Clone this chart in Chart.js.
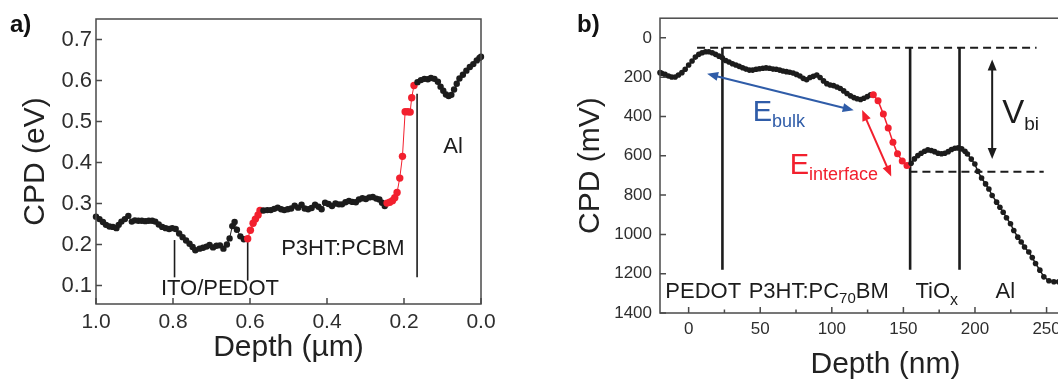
<!DOCTYPE html>
<html>
<head>
<meta charset="utf-8">
<script src="https://cdn.jsdelivr.net/npm/chart.js@4.4.1/dist/chart.umd.min.js"></script>
<style>
html, body { margin: 0; padding: 0; background: #fff; width: 1058px; height: 381px; overflow: hidden; }
#chartA { position: absolute; left: 0; top: 0; }
#chartB { position: absolute; left: 530px; top: 0; }
</style>
</head>
<body>
<canvas id="chartA" width="530" height="381"></canvas>
<canvas id="chartB" width="600" height="381"></canvas>
<script>
// ---- panel a: CPD (eV) vs depth (um) ----
const depthA = [
  1.000, 0.991, 0.982, 0.974, 0.965, 0.956, 0.947, 0.941, 0.934, 0.925,
  0.916, 0.907, 0.899, 0.890, 0.881, 0.872, 0.863, 0.854, 0.846, 0.837,
  0.828, 0.819, 0.810, 0.802, 0.793, 0.784, 0.775, 0.766, 0.757, 0.749,
  0.742, 0.731, 0.722, 0.713, 0.705, 0.696, 0.687, 0.678, 0.669, 0.660,
  0.653, 0.646, 0.640, 0.634, 0.625, 0.616,
  0.606, 0.599, 0.592, 0.586, 0.579, 0.574,
  0.565, 0.555, 0.546, 0.537, 0.528, 0.519, 0.511, 0.502, 0.493, 0.484,
  0.475, 0.466, 0.458, 0.449, 0.440, 0.431, 0.422, 0.414, 0.405, 0.396,
  0.387, 0.378, 0.369, 0.361, 0.352, 0.343, 0.334, 0.325, 0.317, 0.308,
  0.299, 0.290, 0.281, 0.272, 0.264, 0.257, 0.250,
  0.244, 0.237, 0.230, 0.224, 0.218, 0.211, 0.204, 0.197, 0.190, 0.184,
  0.180, 0.174,
  0.165, 0.156, 0.147, 0.138, 0.130, 0.121, 0.112, 0.105, 0.098, 0.091,
  0.084, 0.077, 0.070, 0.063, 0.056, 0.047, 0.038, 0.029, 0.020, 0.011,
  0.004, 0.000
];
const cpdA = [
  0.268, 0.262, 0.255, 0.248, 0.244, 0.243, 0.240, 0.248, 0.256, 0.262,
  0.270, 0.256, 0.259, 0.258, 0.258, 0.257, 0.258, 0.258, 0.256, 0.249,
  0.243, 0.240, 0.238, 0.240, 0.238, 0.227, 0.218, 0.210, 0.202, 0.194,
  0.186, 0.190, 0.192, 0.195, 0.199, 0.193, 0.197, 0.198, 0.190, 0.200,
  0.215, 0.245, 0.255, 0.236, 0.220, 0.213,
  0.214, 0.235, 0.252, 0.262, 0.272, 0.283,
  0.283, 0.284, 0.284, 0.287, 0.290, 0.286, 0.284, 0.286, 0.288, 0.295,
  0.290, 0.297, 0.288, 0.286, 0.289, 0.297, 0.292, 0.286, 0.302, 0.299,
  0.294, 0.300, 0.298, 0.298, 0.303, 0.306, 0.304, 0.303, 0.310, 0.313,
  0.311, 0.315, 0.316, 0.312, 0.310, 0.302, 0.294,
  0.301, 0.303, 0.307, 0.314, 0.327, 0.362, 0.415, 0.524, 0.524, 0.523,
  0.558, 0.588,
  0.596, 0.601, 0.604, 0.603, 0.606, 0.604, 0.597, 0.585, 0.575, 0.566,
  0.562, 0.565, 0.578, 0.592, 0.605, 0.614, 0.624, 0.633, 0.640, 0.649,
  0.655, 0.658
];
// depth ranges drawn in red (interface regions)
const interfaceA = [[0.574, 0.606], [0.174, 0.244]];
const xTicksA = [1.0, 0.8, 0.6, 0.4, 0.2, 0.0];
const yTicksA = [0.1, 0.2, 0.3, 0.4, 0.5, 0.6, 0.7];

// ---- panel b: CPD (mV) vs depth (nm) ----
const depthB = [
  -20.0, -18.8, -16.5, -14.1, -11.8, -9.4, -7.1, -4.7, -2.4, 0.0,
  2.4, 4.7, 7.1, 9.4, 11.8, 14.1, 16.5, 18.8, 21.2, 23.5,
  25.9, 28.2, 30.6, 33.0, 35.3, 37.7, 40.0, 42.4, 44.7, 47.1,
  49.4, 51.8, 54.1, 56.5, 58.9, 61.2, 63.6, 65.9, 68.3, 70.6,
  73.0, 75.3, 77.7, 80.0, 82.4, 84.7, 87.1, 89.5, 91.8, 94.2,
  96.5, 98.9, 101.2, 103.6, 105.9, 108.3, 110.6, 113.0, 115.4, 117.7,
  120.1, 122.4, 124.8, 127.1,
  129.0, 132.3, 136.0, 139.4, 142.7, 145.9, 149.2, 152.5,
  155.4, 157.7, 160.1, 162.4, 164.8, 167.1, 169.5, 171.8, 174.2, 176.6,
  178.9, 181.3, 183.6, 186.0, 188.3, 190.7, 193.0, 194.7, 197.4, 199.9,
  202.0, 204.6, 207.4, 209.7, 212.0, 215.1, 217.4, 219.7, 222.0, 224.8,
  227.1, 229.9, 232.3, 234.6, 237.6, 240.0, 242.3, 245.3, 248.1, 251.6,
  255.1, 258.4
];
const cpdB = [
  177, 180, 186, 194, 199, 199, 189, 177, 160, 138,
  118, 98, 84, 76, 71, 71, 76, 84, 93, 101,
  115, 123, 132, 138, 145, 152, 159, 164, 164, 160,
  157, 155, 153, 155, 159, 160, 164, 169, 172, 175,
  179, 186, 194, 206, 213, 202, 196, 189, 202, 219,
  233, 240, 243, 250, 258, 270, 283, 295, 304, 310,
  314, 307, 299, 290,
  290, 320, 388, 459, 531, 590, 627, 649,
  638, 616, 599, 587, 577, 570, 573, 579, 587, 590,
  587, 579, 568, 562, 560, 565, 577, 591, 617, 642,
  679, 713, 743, 769, 802, 836, 862, 887, 915, 946,
  980, 1014, 1039, 1064, 1090, 1118, 1148, 1182, 1216, 1236,
  1241, 1241
];
const interfaceB = [[129.0, 152.5]];
const xTicksB = [0, 50, 100, 150, 200, 250];
const xMinorB = [25, 75, 125, 175, 225, 275];
const yTicksB = [0, 200, 400, 600, 800, 1000, 1200, 1400];

const BLACK = '#1c1c1c';
const RED = '#f2202e';
const BLUE = '#2f5ca8';
const FONT = "'Liberation Sans', Arial, Helvetica, sans-serif";

Chart.defaults.font.family = FONT;
Chart.defaults.color = '#333';

function inRanges(v, ranges) {
  return ranges.some(r => v >= r[0] - 1e-9 && v <= r[1] + 1e-9);
}

function arrowHead(ctx, x, y, ang, len, half) {
  const c = Math.cos(ang), s = Math.sin(ang);
  ctx.beginPath();
  ctx.moveTo(x, y);
  ctx.lineTo(x - len * c + half * s, y - len * s - half * c);
  ctx.lineTo(x - len * c - half * s, y - len * s + half * c);
  ctx.closePath();
  ctx.fill();
}

function decor(spec) {
  return {
    id: 'decor',
    beforeDatasetsDraw(chart) {
      const ctx = chart.ctx, xs = chart.scales.x, ys = chart.scales.y;
      ctx.save();
      ctx.strokeStyle = BLACK;
      (spec.vlines || []).forEach(l => {
        ctx.lineWidth = l.w;
        ctx.beginPath();
        ctx.moveTo(xs.getPixelForValue(l.x), ys.getPixelForValue(l.y1));
        ctx.lineTo(xs.getPixelForValue(l.x), ys.getPixelForValue(l.y2));
        ctx.stroke();
      });
      ctx.setLineDash([8, 5]);
      ctx.lineWidth = 2;
      (spec.dashes || []).forEach(l => {
        ctx.beginPath();
        ctx.moveTo(xs.getPixelForValue(l.x1), ys.getPixelForValue(l.y));
        ctx.lineTo(xs.getPixelForValue(l.x2), ys.getPixelForValue(l.y));
        ctx.stroke();
      });
      ctx.restore();
    },
    afterDatasetsDraw(chart) {
      const ctx = chart.ctx, xs = chart.scales.x, ys = chart.scales.y;
      ctx.save();
      (spec.arrows || []).forEach(a => {
        const x1 = xs.getPixelForValue(a.x1), y1 = ys.getPixelForValue(a.y1);
        const x2 = xs.getPixelForValue(a.x2), y2 = ys.getPixelForValue(a.y2);
        const ang = Math.atan2(y2 - y1, x2 - x1);
        const hl = 11;
        ctx.strokeStyle = a.color;
        ctx.fillStyle = a.color;
        ctx.lineWidth = 2;
        ctx.beginPath();
        ctx.moveTo(x1 + hl * 0.7 * Math.cos(ang), y1 + hl * 0.7 * Math.sin(ang));
        ctx.lineTo(x2 - hl * 0.7 * Math.cos(ang), y2 - hl * 0.7 * Math.sin(ang));
        ctx.stroke();
        arrowHead(ctx, x2, y2, ang, hl, 4.5);
        arrowHead(ctx, x1, y1, ang + Math.PI, hl, 4.5);
      });
      ctx.textBaseline = 'alphabetic';
      (spec.texts || []).forEach(t => {
        let x = xs.getPixelForValue(t.x);
        const y = ys.getPixelForValue(t.y);
        ctx.fillStyle = t.color || BLACK;
        if (t.align === 'center') {
          let w = 0;
          t.parts.forEach(p => { ctx.font = p[1] + 'px ' + FONT; w += ctx.measureText(p[0]).width; });
          x -= w / 2;
        }
        t.parts.forEach(p => {
          ctx.font = p[1] + 'px ' + FONT;
          ctx.fillText(p[0], x, y + (p[2] || 0));
          x += ctx.measureText(p[0]).width;
        });
      });
      ctx.restore();
    },
    afterDraw(chart) {
      const ctx = chart.ctx, a = chart.chartArea, xs = chart.scales.x, ys = chart.scales.y;
      ctx.save();
      ctx.strokeStyle = '#4a4a4a';
      ctx.lineWidth = 1.5;
      ctx.strokeRect(a.left, a.top, a.right - a.left, a.bottom - a.top);
      ctx.beginPath();
      spec.xMajor.forEach(v => { const p = xs.getPixelForValue(v); ctx.moveTo(p, a.bottom); ctx.lineTo(p, a.bottom - 6); });
      (spec.xMinor || []).forEach(v => { const p = xs.getPixelForValue(v); ctx.moveTo(p, a.bottom); ctx.lineTo(p, a.bottom - 3.5); });
      spec.yMajor.forEach(v => { const p = ys.getPixelForValue(v); ctx.moveTo(a.left, p); ctx.lineTo(a.left + 6, p); });
      ctx.stroke();
      ctx.fillStyle = '#111';
      ctx.font = 'bold 24px ' + FONT;
      ctx.textBaseline = 'alphabetic';
      ctx.fillText(spec.label[0], spec.label[1], spec.label[2]);
      ctx.restore();
    }
  };
}

function makeData(xs, ys) {
  return xs.map((x, i) => ({ x: x, y: ys[i] }));
}

function makeChart(id, o) {
  const isRed = ctx => inRanges(ctx.raw ? ctx.raw.x : NaN, o.ranges);
  return new Chart(document.getElementById(id), {
    type: 'scatter',
    data: {
      datasets: [{
        data: makeData(o.xData, o.yData),
        showLine: true,
        clip: false,
        borderWidth: o.lineW,
        borderColor: BLACK,
        segment: {
          borderColor: c => (inRanges(c.p0.parsed.x, o.ranges) && inRanges(c.p1.parsed.x, o.ranges)) ? RED : BLACK
        },
        pointRadius: c => isRed(c) ? o.rRed : o.rBlack,
        pointBackgroundColor: c => isRed(c) ? RED : BLACK,
        pointBorderWidth: 0
      }]
    },
    options: {
      responsive: false,
      animation: false,
      events: [],
      layout: { autoPadding: false, padding: o.pad },
      plugins: { legend: { display: false }, tooltip: { enabled: false } },
      scales: {
        x: {
          type: 'linear',
          min: o.xMin, max: o.xMax, reverse: o.xRev,
          afterBuildTicks: s => { s.ticks = o.xTicks.map(v => ({ value: v })); },
          afterFit: s => { s.height = o.xH; },
          grid: { display: false, drawTicks: false },
          border: { display: false },
          ticks: { font: { size: o.xTickSize }, padding: o.xTickPad, color: '#2e2e2e', callback: o.xFmt, maxRotation: 0, autoSkip: false },
          title: { display: true, text: o.xTitle, color: '#222', font: { size: 30, lineHeight: 1 }, padding: { top: 0, bottom: o.xTitlePad } }
        },
        y: {
          type: 'linear',
          min: o.yMin, max: o.yMax, reverse: o.yRev,
          afterBuildTicks: s => { s.ticks = o.yTicks.map(v => ({ value: v })); },
          afterFit: s => { s.width = o.yW; },
          grid: { display: false, drawTicks: false },
          border: { display: false },
          ticks: { font: { size: o.yTickSize }, padding: o.yTickPad, color: '#2e2e2e', callback: o.yFmt, autoSkip: false },
          title: { display: true, text: o.yTitle, color: '#222', font: { size: 30, lineHeight: 1 }, padding: { top: o.yTitlePad, bottom: 0 } }
        }
      }
    },
    plugins: [decor(o.decor)]
  });
}

makeChart('chartA', {
  xData: depthA, yData: cpdA, ranges: interfaceA,
  lineW: 1, rBlack: 3.2, rRed: 3.7,
  pad: { left: 0, top: 19, right: 49, bottom: 0 },
  xMin: 0, xMax: 1.0, xRev: true, xTicks: xTicksA, xH: 77, xTickSize: 21, xTickPad: 6,
  xFmt: v => v.toFixed(1), xTitle: 'Depth (\u00b5m)', xTitlePad: 18,
  yMin: 0.055, yMax: 0.75, yRev: false, yTicks: yTicksA, yW: 96, yTickSize: 22, yTickPad: 4,
  yFmt: v => v.toFixed(1), yTitle: 'CPD (eV)', yTitlePad: 21,
  decor: {
    label: ['a)', 10, 32],
    xMajor: xTicksA, yMajor: yTicksA,
    vlines: [
      { x: 0.796, y1: 0.211, y2: 0.120, w: 1.6 },
      { x: 0.606, y1: 0.206, y2: 0.112, w: 1.6 },
      { x: 0.166, y1: 0.568, y2: 0.120, w: 1.6 }
    ],
    texts: [
      { x: 0.678, y: 0.076, align: 'center', parts: [['ITO/PEDOT', 22]] },
      { x: 0.519, y: 0.175, parts: [['P3HT:PCBM', 22]] },
      { x: 0.098, y: 0.423, parts: [['Al', 22]] }
    ]
  }
});

makeChart('chartB', {
  xData: depthB, yData: cpdB, ranges: interfaceB,
  lineW: 1.5, rBlack: 2.8, rRed: 3.5,
  pad: { left: 0, top: 17, right: 19, bottom: 0 },
  xMin: -20, xMax: 295, xRev: false, xTicks: xTicksB, xH: 68, xTickSize: 17, xTickPad: 6,
  xFmt: v => String(v), xTitle: 'Depth (nm)', xTitlePad: 1,
  yMin: -100, yMax: 1400, yRev: true, yTicks: yTicksB, yW: 130, yTickSize: 17, yTickPad: 8,
  yFmt: v => String(v), yTitle: 'CPD (mV)', yTitlePad: 46,
  decor: {
    label: ['b)', 47, 32],
    xMajor: xTicksB, xMinor: xMinorB, yMajor: yTicksB,
    vlines: [
      { x: 23.6, y1: 50, y2: 1180, w: 2.6 },
      { x: 154.7, y1: 50, y2: 1180, w: 2.6 },
      { x: 189.2, y1: 50, y2: 1180, w: 2.6 }
    ],
    dashes: [
      { y: 50, x1: 5.9, x2: 243 },
      { y: 681, x1: 154.2, x2: 248 }
    ],
    arrows: [
      { x1: 12.9, y1: 183, x2: 115.3, y2: 369, color: BLUE },
      { x1: 121.2, y1: 367, x2: 141.5, y2: 705, color: RED },
      { x1: 212, y1: 110, x2: 212, y2: 617, color: BLACK }
    ],
    texts: [
      { x: 44.7, y: 425, color: BLUE, parts: [['E', 29], ['bulk', 18, 6]] },
      { x: 70.6, y: 695, color: RED, parts: [['E', 29], ['interface', 18, 6]] },
      { x: 219, y: 431, parts: [['V', 33], ['bi', 19, 7]] },
      { x: -16.3, y: 1322, parts: [['PEDOT', 22]] },
      { x: 41.9, y: 1322, parts: [['P3HT:PC', 22], ['70', 15, 5], ['BM', 22]] },
      { x: 158.4, y: 1322, parts: [['TiO', 22], ['x', 16, 7]] },
      { x: 214.4, y: 1322, parts: [['Al', 22]] }
    ]
  }
});
</script>
</body>
</html>
